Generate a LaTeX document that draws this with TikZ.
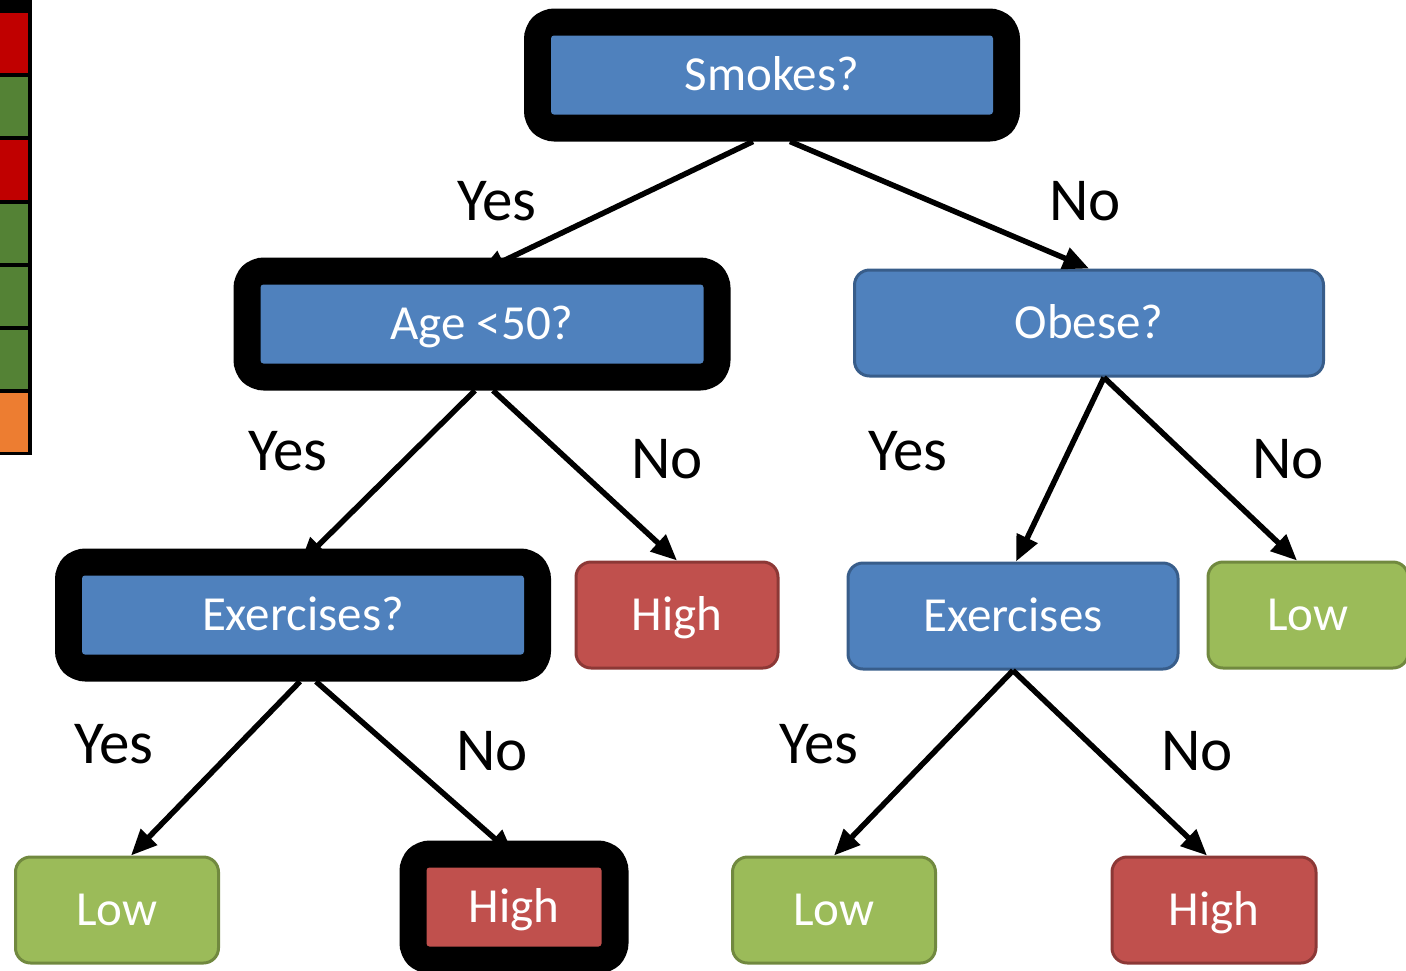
\documentclass[tikz,border=0pt]{standalone}
\usepackage{fontspec}
\setmainfont{Carlito}
\usetikzlibrary{arrows.meta}

\definecolor{qfill}{HTML}{4F81BD}
\definecolor{qline}{HTML}{385D8A}
\definecolor{hifill}{HTML}{C0504D}
\definecolor{hiline}{HTML}{8C3836}
\definecolor{lofill}{HTML}{9BBB59}
\definecolor{loline}{HTML}{71893F}
\definecolor{cellred}{HTML}{C00000}
\definecolor{cellgreen}{HTML}{548235}
\definecolor{cellorange}{HTML}{ED7D31}

\begin{document}
\begin{tikzpicture}[x=1pt,y=-1pt,
  boxtext/.style={text=white, font=\fontsize{49}{58}\selectfont,
    text height=34pt, text depth=2.4pt, inner sep=0pt, anchor=center},
  plainbox/.style={boxtext, rounded corners=15pt, line width=3pt,
    minimum height=106pt},
  qbox/.style={plainbox, fill=qfill, draw=qline},
  hibox/.style={plainbox, fill=hifill, draw=hiline},
  lobox/.style={plainbox, fill=lofill, draw=loline},
  heavybox/.style={boxtext, rounded corners=3pt, minimum height=79pt,
    outer sep=27pt,
    preaction={draw=black, line width=54pt, line join=round}},
  edgelabel/.style={font=\fontsize{61}{66}\selectfont, anchor=base, inner sep=0pt},
  branch/.style={line width=5.5pt, -{Triangle[length=26pt,width=22pt]}},
]
\useasboundingbox (0,0) rectangle (1406,970);

% outcome strip on the left edge
\fill[black] (0,0) rectangle (32,455);
\fill[cellred]    (0,13)  rectangle (28,73);
\fill[cellgreen]  (0,77)  rectangle (28,136);
\fill[cellred]    (0,140) rectangle (28,200);
\fill[cellgreen]  (0,204) rectangle (28,263);
\fill[cellgreen]  (0,267) rectangle (28,326);
\fill[cellgreen]  (0,330) rectangle (28,389);
\fill[cellorange] (0,393) rectangle (28,452);

% decision nodes
\node[heavybox, fill=qfill, minimum width=442pt] (smk) at (772,75) {Smokes?};
\node[heavybox, fill=qfill, minimum width=443pt] (age) at (482,324) {Age <50?};
\node[qbox, minimum width=469pt] (obs) at (1089,323) {Obese?};
\node[heavybox, fill=qfill, minimum width=442pt] (exq) at (303,615) {Exercises?};
\node[qbox, minimum width=330pt] (exr) at (1013,616) {Exercises};

% leaves
\node[hibox, minimum width=202pt] (hi1) at (677,615) {High};
\node[lobox, minimum width=200pt] (lo1) at (1308,615) {Low};
\node[lobox, minimum width=203pt] (lo2) at (117,910) {Low};
\node[heavybox, fill=hifill, minimum width=175pt] (hi2) at (514,907) {High};
\node[lobox, minimum width=203pt] (lo3) at (834,910) {Low};
\node[hibox, minimum width=204pt] (hi3) at (1214,910) {High};

% branches (tips into a heavy frame sink into the black border)
\draw[branch] ([xshift=-19pt]smk.south) -- ([xshift=-3pt,yshift=-15pt]age.north);
\draw[branch] ([xshift=18pt]smk.south) -- (obs.north);
\draw[branch] ([xshift=-7pt]age.south) -- ([xshift=-3pt,yshift=-15pt]exq.north);
\draw[branch] ([xshift=11pt]age.south) -- (hi1.north);
\draw[branch] ([xshift=15pt]obs.south) -- ([xshift=3pt]exr.north);
\draw[branch] ([xshift=15pt]obs.south) -- ([xshift=-11pt]lo1.north);
\draw[branch] ([xshift=-3pt]exq.south) -- ([xshift=14pt]lo2.north);
\draw[branch] ([xshift=13pt]exq.south) -- ([yshift=-15pt]hi2.north);
\draw[branch] (exr.south) -- (lo3.north);
\draw[branch] (exr.south) -- ([xshift=-7pt]hi3.north);

% branch labels
\node[edgelabel] (y1) at (497,220) {Yes};
\node[edgelabel] (n1) at (1085,220) {No};
\node[edgelabel] (y2) at (288,470) {Yes};
\node[edgelabel] (n2) at (667,478) {No};
\node[edgelabel] (y3) at (908,470) {Yes};
\node[edgelabel] (n3) at (1288,478) {No};
\node[edgelabel] (y4) at (114,763) {Yes};
\node[edgelabel] (n4) at (492,770) {No};
\node[edgelabel] (y5) at (819,763) {Yes};
\node[edgelabel] (n5) at (1197,770) {No};
\end{tikzpicture}
\end{document}
